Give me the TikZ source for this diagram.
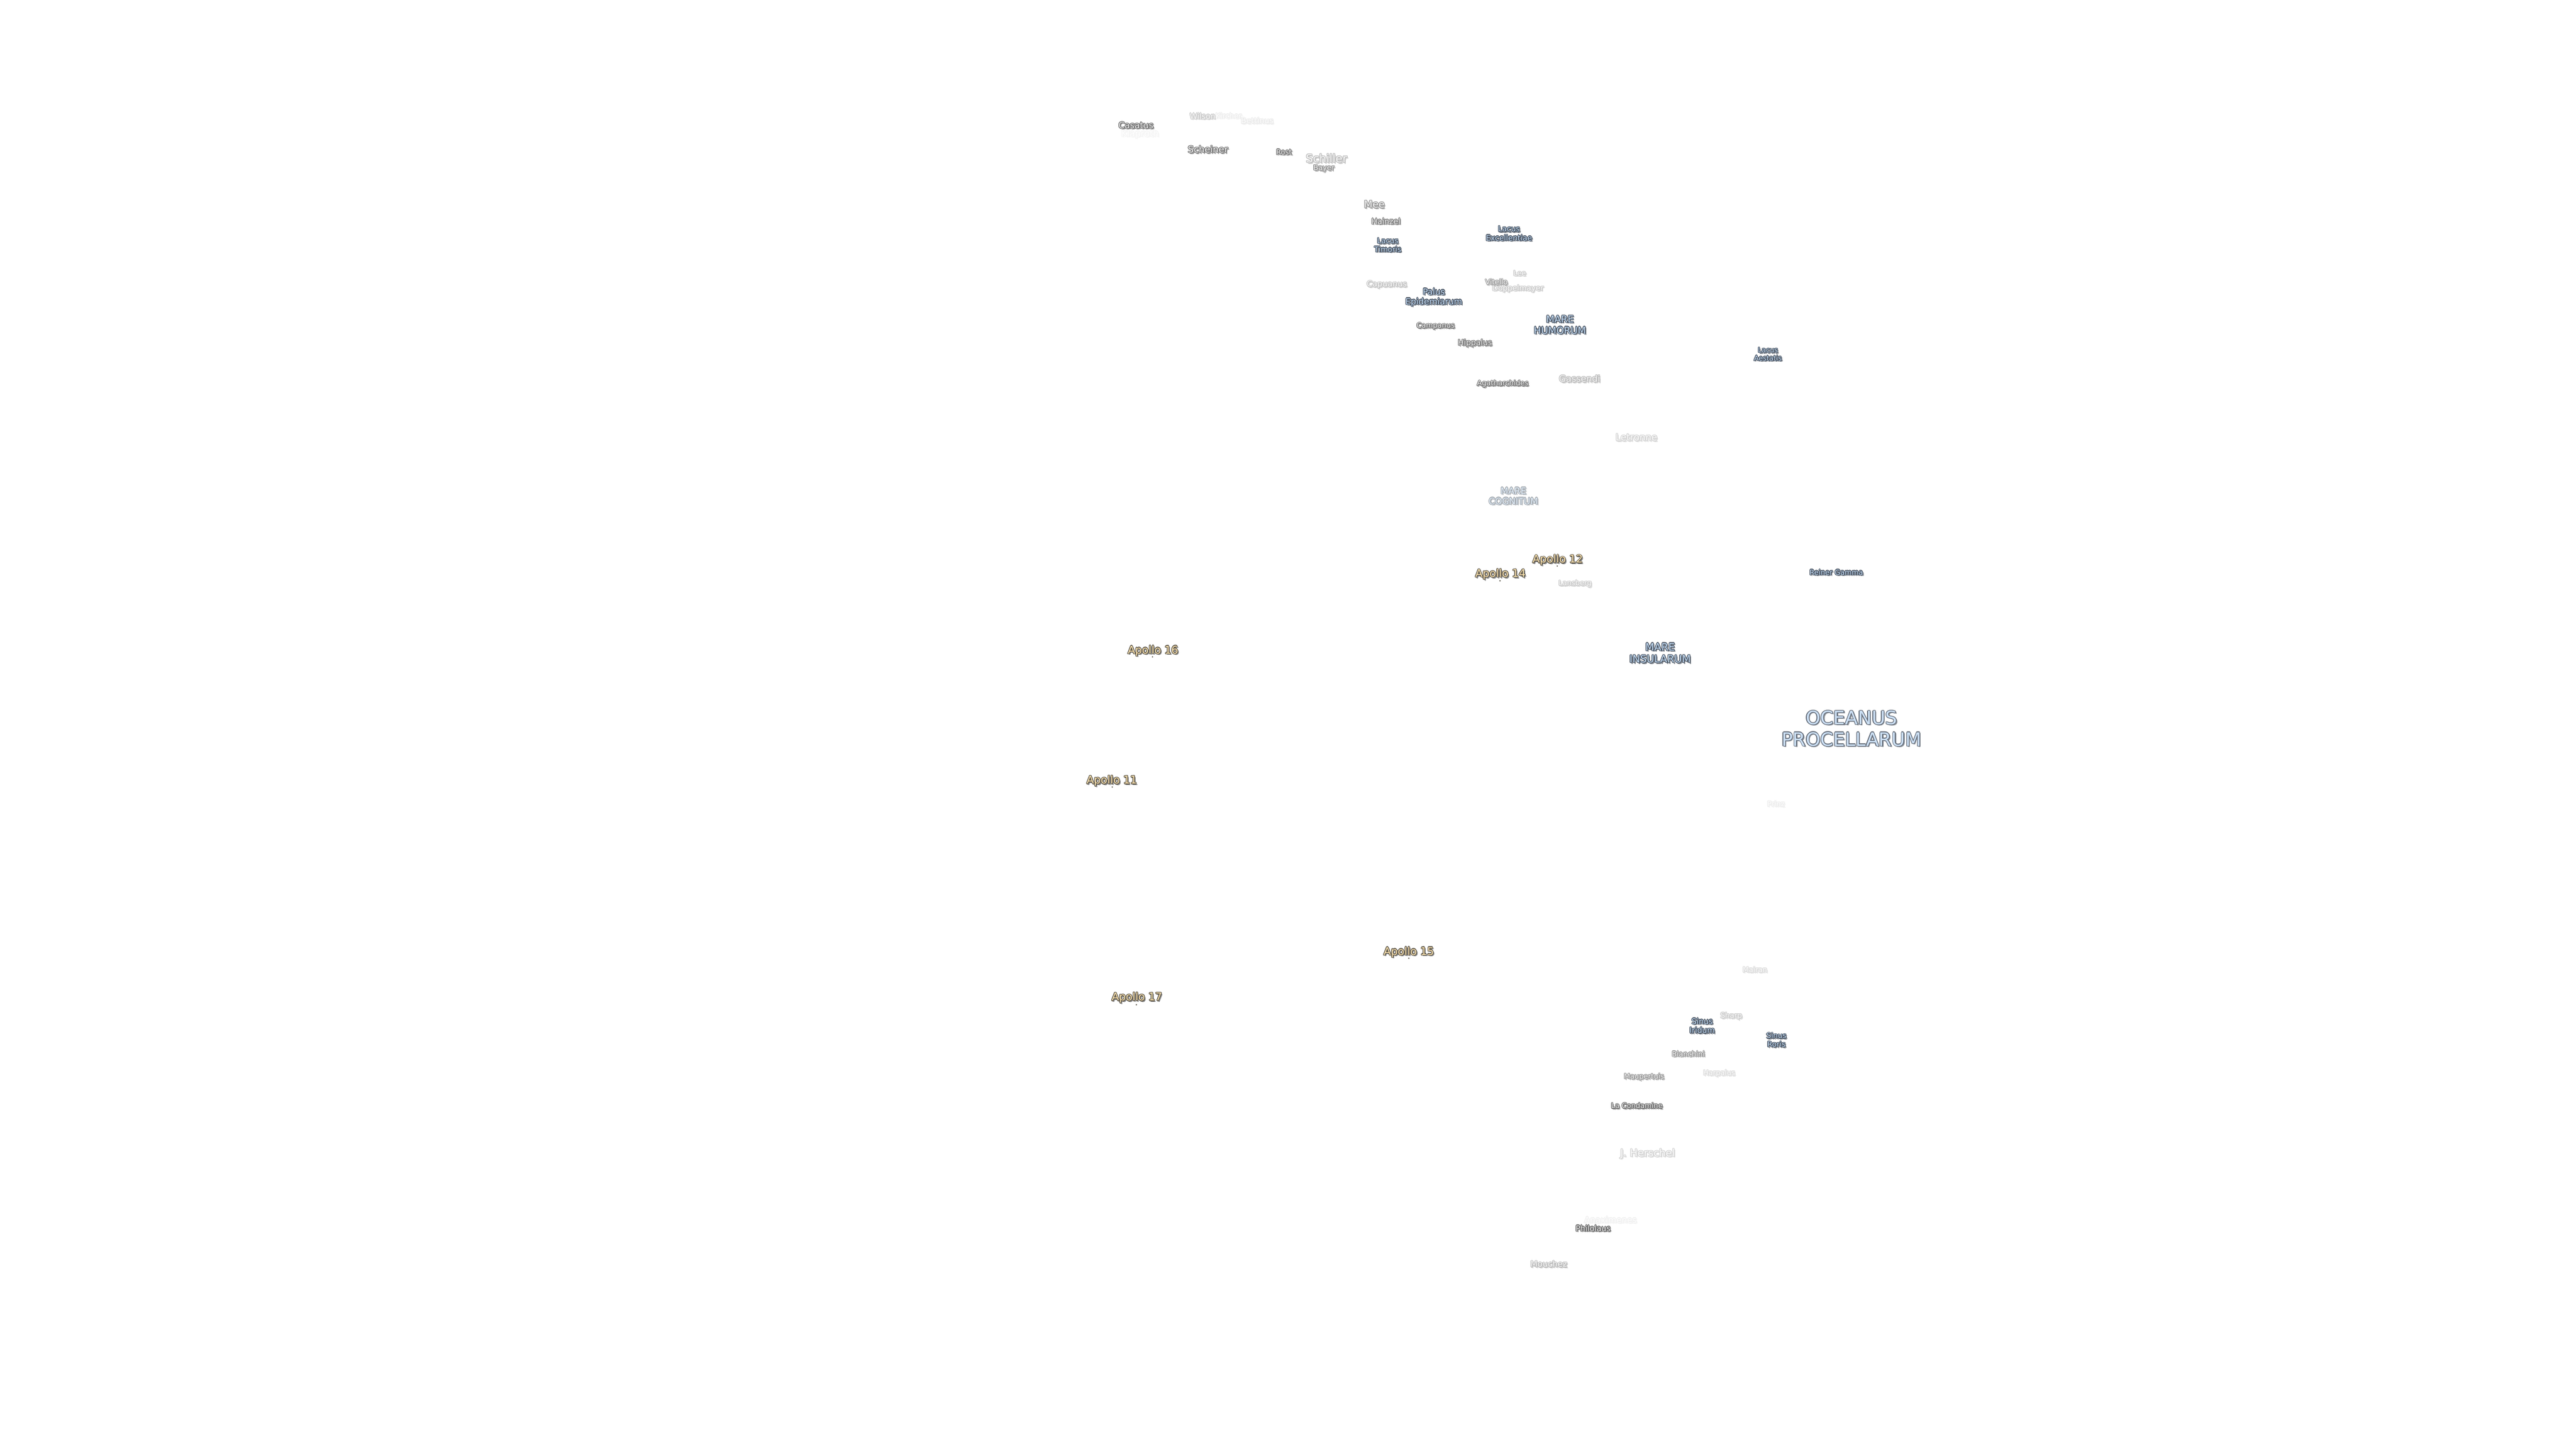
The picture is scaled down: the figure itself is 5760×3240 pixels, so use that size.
\documentclass[tikz,border=0pt]{standalone}
\usepackage{fontspec}
\setmainfont{DejaVu Sans}
\usepackage{xcolor}
\definecolor{seafill}{HTML}{C4DCF4}
\definecolor{seaedge}{HTML}{46505E}
\definecolor{seashade}{HTML}{7E848C}
\definecolor{craterfill}{HTML}{E8E8E8}
\definecolor{crateredge}{HTML}{555555}
\definecolor{cratershade}{HTML}{808080}
\definecolor{apollofill}{HTML}{FBE2B0}
\definecolor{apolloedge}{HTML}{5A5448}
\definecolor{apolloshade}{HTML}{858585}

\newsavebox{\lblbox}
\newcommand{\lbllayer}[3]{\rlap{\kern #1pt\raise #2pt\hbox{\color{#3}\usebox{\lblbox}}}}
\newcommand{\halo}[1]{%
  \setbox\lblbox=\hbox{\begin{tabular}{@{}c@{}}#1\end{tabular}}%
  \leavevmode
  \lbllayer{0.85}{-0.85}{lblshade}\lbllayer{0.55}{-0.55}{lblshade}%
  \lbllayer{0.42}{0}{lbledge}\lbllayer{-0.42}{0}{lbledge}%
  \lbllayer{0}{0.42}{lbledge}\lbllayer{0}{-0.42}{lbledge}%
  \lbllayer{0.3}{0.3}{lbledge}\lbllayer{-0.3}{0.3}{lbledge}%
  \lbllayer{0.3}{-0.3}{lbledge}\lbllayer{-0.3}{-0.3}{lbledge}%
  \textcolor{lblfill}{\usebox{\lblbox}}}

\tikzset{
  lblsize/.code={\pgfmathsetmacro\lblsz{#1*0.2845}\pgfmathsetmacro\lblsk{#1*0.331}%
    \pgfmathsetmacro\lbldrop{-#1*0.05}%
    \tikzset{font=\fontsize{\lblsz}{\lblsk}\selectfont, yshift=\lbldrop pt, xshift=0.3pt}},
  sea/.style={lblsize=#1, inner sep=0pt, /utils/exec={\colorlet{lblfill}{seafill}%
    \colorlet{lbledge}{seaedge}\colorlet{lblshade}{seashade}}},
  crater/.style={lblsize=#1, inner sep=0pt, /utils/exec={\colorlet{lblfill}{craterfill}%
    \colorlet{lbledge}{crateredge}\colorlet{lblshade}{cratershade}}},
  apollo/.style={lblsize=24, inner sep=0pt, /utils/exec={\colorlet{lblfill}{apollofill}%
    \colorlet{lbledge}{apolloedge}\colorlet{lblshade}{apolloshade}}},
  dim/.code={\colorlet{lblfill}{lblfill!#1!white}\colorlet{lbledge}{lbledge!#1!white}%
    \colorlet{lblshade}{lblshade!#1!white}},
  sitedot/.style={circle, inner sep=0pt, minimum size=0.9pt, fill=apolloedge},
}

\begin{document}
\begin{tikzpicture}[x=0.01cm, y=-0.01cm]
  \useasboundingbox (0,0) rectangle (5760,3240);
  % Far end of the crater chain
  \node[crater=20, dim=6] (klaproth) at (2548,298) {\halo{Klaproth}};
  \node[crater=19.5, dim=85] (casatus) at (2539,280) {\halo{Casatus}};
  \node[crater=17.5, dim=30] (wilson) at (2688,260) {\halo{Wilson}};
  \node[crater=16.5, dim=10] (kircher) at (2746,259) {\halo{Kircher}};
  \node[crater=17.5, dim=12] (bettinus) at (2810,270) {\halo{Bettinus}};
  \node[crater=20.5, dim=80] (scheiner) at (2700,334) {\halo{Scheiner}};
  \node[crater=16, dim=80] (rost) at (2870,340) {\halo{Rost}};
  \node[crater=25, dim=40] (schiller) at (2965,354) {\halo{Schiller}};
  \node[crater=16, dim=65] (bayer) at (2959,375) {\halo{Bayer}};
  % Around Mare Humorum
  \node[crater=22, dim=60] (mee) at (3072,457) {\halo{Mee}};
  \node[crater=17.5, dim=75] (hainzel) at (3098,495) {\halo{Hainzel}};
  \node[sea=16.5] (timoris) at (3102,548) {\halo{Lacus\\Timoris}};
  \node[sea=17] (excellentiae) at (3373,522) {\halo{Lacus\\Excellentiae}};
  \node[crater=18, dim=35] (capuanus) at (3100,635) {\halo{Capuanus}};
  \node[sea=19] (epidemiarum) at (3205,663) {\halo{Palus\\Epidemiarum}};
  \node[crater=16, dim=30] (lee) at (3397,611) {\halo{Lee}};
  \node[crater=17, dim=30] (doppelmayer) at (3393,644) {\halo{Doppelmayer}};
  \node[crater=16, dim=55] (vitello) at (3345,631) {\halo{Vitello}};
  \node[crater=16, dim=80] (campanus) at (3209,728) {\halo{Campanus}};
  \node[sea=21.5] (humorum) at (3487,726) {\halo{MARE\\HUMORUM}};
  \node[crater=17.5, dim=80] (hippalus) at (3297,766) {\halo{Hippalus}};
  \node[sea=15.5] (aestatis) at (3952,792) {\halo{Lacus\\Aestatis}};
  \node[crater=20, dim=40] (gassendi) at (3531,847) {\halo{Gassendi}};
  \node[crater=16, dim=80] (agatharchides) at (3359,857) {\halo{Agatharchides}};
  \node[crater=21, dim=25] (letronne) at (3658,978) {\halo{Letronne}};
  % Middle of the near side
  \node[sea=20, dim=50] (cognitum) at (3383,1109) {\halo{MARE\\COGNITUM}};
  \node[crater=16, dim=30] (lansberg) at (3521,1304) {\halo{Lansberg}};
  \node[sea=16] (reiner) at (4105,1280) {\halo{Reiner Gamma}};
  \node[sea=23] (insularum) at (3711,1460) {\halo{MARE\\INSULARUM}};
  \node[sea=41.5, dim=85] (procellarum) at (4139,1628) {\halo{OCEANUS\\PROCELLARUM}};
  \node[crater=16, dim=10] (prinz) at (3970,1798) {\halo{Prinz}};
  % Northern group
  \node[crater=16, dim=20] (mairan) at (3923,2169) {\halo{Mairan}};
  \node[crater=16.5, dim=30] (sharp) at (3870,2271) {\halo{Sharp}};
  \node[sea=17.5] (iridum) at (3805,2294) {\halo{Sinus\\Iridum}};
  \node[sea=16.5] (roris) at (3971,2326) {\halo{Sinus\\Roris}};
  \node[crater=16, dim=60] (bianchini) at (3774,2357) {\halo{Bianchini}};
  \node[crater=16, dim=20] (harpalus) at (3843,2399) {\halo{Harpalus}};
  \node[crater=16, dim=60] (maupertuis) at (3675,2407) {\halo{Maupertuis}};
  \node[crater=16, dim=85] (condamine) at (3659,2473) {\halo{La Condamine}};
  \node[crater=23, dim=25] (herschel) at (3683,2578) {\halo{J. Herschel}};
  \node[crater=19, dim=8] (anaximenes) at (3600,2728) {\halo{Anaximenes}};
  \node[crater=17.5, dim=90] (philolaus) at (3561,2747) {\halo{Philolaus}};
  \node[crater=18.5, dim=40] (mouchez) at (3462,2827) {\halo{Mouchez}};
  % Landing sites
  \node[apollo] (apollo12) at (3482,1250) {\halo{Apollo 12}};
  \node[apollo] (apollo14) at (3354,1282) {\halo{Apollo 14}};
  \node[apollo] (apollo16) at (2577,1453) {\halo{Apollo 16}};
  \node[apollo] (apollo11) at (2485,1744) {\halo{Apollo 11}};
  \node[apollo] (apollo15) at (3149,2127) {\halo{Apollo 15}};
  \node[apollo] (apollo17) at (2541,2229) {\halo{Apollo 17}};
  \node[sitedot] (site12) at (3482,1266) {};
  \node[sitedot] (site14) at (3354,1299) {};
  \node[sitedot] (site16) at (2577,1469) {};
  \node[sitedot] (site11) at (2487,1760) {};
  \node[sitedot] (site15) at (3150,2143) {};
  \node[sitedot] (site17) at (2541,2247) {};
\end{tikzpicture}
\end{document}
